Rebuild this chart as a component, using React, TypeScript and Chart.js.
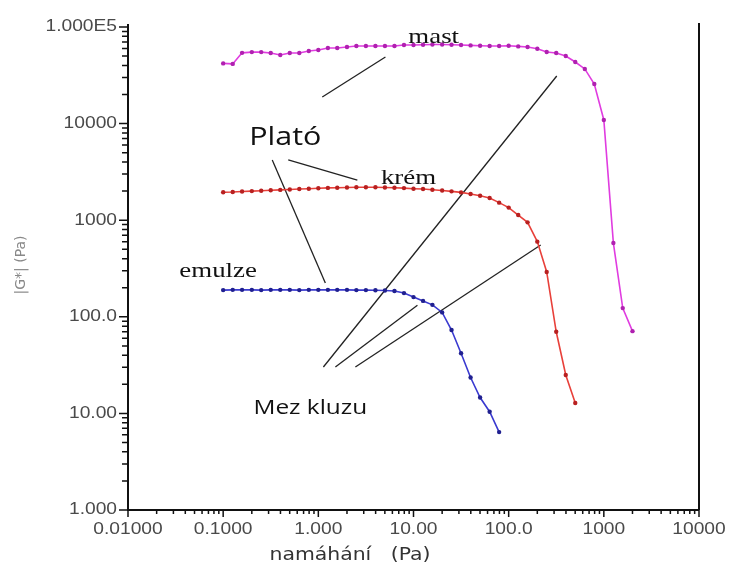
import React, { useEffect, useRef } from 'react';
import { Chart, registerables } from 'chart.js';

Chart.register(...registerables);

// shear stress (Pa), common measurement points
const stress = [
  0.1, 0.126, 0.158, 0.2, 0.251, 0.316, 0.398, 0.501, 0.631, 0.794,
  1, 1.26, 1.58, 2, 2.51, 3.16, 3.98, 5.01, 6.31, 7.94,
  10, 12.6, 15.8, 20, 25.1, 31.6, 39.8, 50.1, 63.1, 79.4,
  100, 126, 158, 200, 251, 316, 398, 501, 631, 794,
  1000, 1260, 1580, 2000,
];

// |G*| (Pa)
const mastG = [
  42000, 41500, 54000, 55000, 55000, 53800, 51300, 53800, 53800, 56400,
  57800, 60600, 60600, 62100, 63600, 63600, 63600, 63600, 63600, 65200,
  65200, 65500, 66000, 66000, 65500, 65200, 64500, 64000, 63600, 63600,
  64000, 63000, 62000, 59500, 55100, 53800, 50100, 43400, 36800, 25700,
  10900, 580, 123, 71,
];
const kremG = [
  1950, 1960, 1980, 2000, 2020, 2040, 2060, 2080, 2100, 2120,
  2140, 2160, 2170, 2180, 2190, 2190, 2190, 2180, 2170, 2150,
  2120, 2100, 2070, 2030, 1990, 1940, 1870, 1790, 1700, 1520,
  1350, 1130, 950, 600, 291, 70, 25, 12.8,
];
const emulzeG = [
  189, 190, 190, 190, 189, 190, 190, 190, 189, 190,
  190, 190, 190, 190, 189, 189, 188, 187, 185, 176,
  160, 146, 133, 111, 73, 42, 23.5, 14.6, 10.4, 6.4,
];

const xTickValues = [0.01, 0.1, 1, 10, 100, 1000, 10000];
const xTickLabels = ['0.01000', '0.1000', '1.000', '10.00', '100.0', '1000', '10000'];
const yTickValues = [1, 10, 100, 1000, 10000, 100000];
const yTickLabels = ['1.000', '10.00', '100.0', '1000', '10000', '1.000E5'];

const xTitle = 'namáhání   (Pa)';
const yTitle = '|G*| (Pa)';

// leader lines (data coordinates)
const leaderX1 = [0.328, 0.483, 1.10, 1.13, 1.51, 2.45];
const leaderY1 = [4200, 4200, 18840, 30.2, 30.2, 30.2];
const leaderX2 = [1.185, 2.57, 5.07, 320, 11.0, 217];
const leaderY2 = [224, 2606, 48900, 31100, 132, 553];

// annotation texts (data coordinates)
const noteTexts = ['mast', 'krém', 'emulze', 'Plató', 'Mez kluzu'];
const noteX = [16.3, 8.85, 0.0885, 0.45, 0.824];
const noteY = [78800, 2735, 298, 7100, 11.4];
const noteFonts = [
  '22px "Liberation Serif"',
  '22px "Liberation Serif"',
  '22px "Liberation Serif"',
  '25px "Open Sans"',
  '20px "Open Sans"',
];

function stretchedText(ctx: CanvasRenderingContext2D, text: string, x: number, y: number, sx: number, align: CanvasTextAlign) {
  ctx.save();
  ctx.translate(x, y);
  ctx.scale(sx, 1);
  ctx.textAlign = align;
  ctx.fillText(text, 0, 0);
  ctx.restore();
}

const axesPlugin = {
  id: 'axesPlugin',
  beforeDatasetsDraw(chart: any) {
    const { ctx, chartArea: a, scales } = chart;
    const xs = scales.x;
    const ys = scales.y;
    ctx.save();
    ctx.strokeStyle = '#111';
    ctx.lineWidth = 2;
    ctx.beginPath();
    ctx.moveTo(a.left, a.top - 3);
    ctx.lineTo(a.left, a.bottom);
    ctx.lineTo(a.right, a.bottom);
    ctx.moveTo(a.right, a.top - 4);
    ctx.lineTo(a.right, a.bottom);
    ctx.stroke();

    ctx.lineWidth = 1.5;
    ctx.beginPath();
    for (let e = -2; e <= 4; e++) {
      for (let m = 1; m <= 9; m++) {
        if (e === 4 && m > 1) break;
        const v = m * Math.pow(10, e);
        const px = xs.getPixelForValue(v);
        const len = m === 1 ? 7 : 4;
        ctx.moveTo(px, a.bottom);
        ctx.lineTo(px, a.bottom + len);
      }
    }
    for (let e = 0; e <= 5; e++) {
      for (let m = 1; m <= 9; m++) {
        if (e === 5 && m > 1) break;
        const v = m * Math.pow(10, e);
        const py = ys.getPixelForValue(v);
        const len = m === 1 ? 9 : 6;
        ctx.moveTo(a.left, py);
        ctx.lineTo(a.left - len, py);
      }
    }
    ctx.stroke();

    ctx.fillStyle = '#4a4a4a';
    ctx.font = '16px "Liberation Sans"';
    ctx.textBaseline = 'middle';
    yTickValues.forEach((v, i) => {
      stretchedText(ctx, yTickLabels[i], a.left - 11, ys.getPixelForValue(v), 1.2, 'right');
    });
    xTickValues.forEach((v, i) => {
      stretchedText(ctx, xTickLabels[i], xs.getPixelForValue(v), a.bottom + 20, 1.2, 'center');
    });

    // axis titles
    ctx.fillStyle = '#333';
    ctx.font = '17px "DejaVu Sans"';
    stretchedText(ctx, xTitle, 350, 556, 1.2, 'center');
    ctx.save();
    ctx.fillStyle = '#888';
    ctx.font = '14px "DejaVu Sans"';
    ctx.translate(21, 265);
    ctx.rotate(-Math.PI / 2);
    ctx.textAlign = 'center';
    ctx.fillText(yTitle, 0, 0);
    ctx.restore();
    ctx.restore();
  },
  afterDatasetsDraw(chart: any) {
    const { ctx, scales } = chart;
    ctx.save();
    ctx.fillStyle = '#111';
    ctx.textBaseline = 'middle';
    noteTexts.forEach((t, i) => {
      ctx.font = noteFonts[i];
      stretchedText(ctx, t, scales.x.getPixelForValue(noteX[i]), scales.y.getPixelForValue(noteY[i]), 1.22, 'center');
    });
    ctx.restore();
  },
};

function curve(values: number[], line: string, point: string) {
  return {
    data: values.map((v, i) => ({ x: stress[i], y: v })),
    borderColor: line,
    backgroundColor: point,
    pointBackgroundColor: point,
    pointBorderColor: point,
    pointBorderWidth: 0,
    pointRadius: 2.2,
    borderWidth: 1.6,
    tension: 0,
  };
}

export default function App() {
  const ref = useRef<HTMLCanvasElement | null>(null);
  useEffect(() => {
    if (!ref.current) return;
    const leaders = leaderX1.map((x1, i) => ({
      data: [
        { x: x1, y: leaderY1[i] },
        { x: leaderX2[i], y: leaderY2[i] },
      ],
      borderColor: '#222',
      borderWidth: 1.3,
      pointRadius: 0,
      tension: 0,
    }));
    const chart = new Chart(ref.current, {
      type: 'line',
      data: {
        datasets: [
          curve(mastG, '#e03ce0', '#b020b0'),
          curve(kremG, '#e8403a', '#b82020'),
          curve(emulzeG, '#3a3ad0', '#202090'),
          ...leaders,
        ] as any,
      },
      options: {
        animation: false,
        responsive: true,
        maintainAspectRatio: false,
        layout: { padding: { left: 128, right: 32, top: 27, bottom: 65 } },
        plugins: { legend: { display: false }, tooltip: { enabled: false } },
        scales: {
          x: { type: 'logarithmic', min: 0.01, max: 10000, display: false },
          y: { type: 'logarithmic', min: 1, max: 100000, display: false },
        },
      },
      plugins: [axesPlugin],
    });
    return () => chart.destroy();
  }, []);
  return (
    <div style={{ position: 'absolute', left: 0, top: 0, width: 731, height: 575, background: '#fff' }}>
      <canvas ref={ref} />
    </div>
  );
}
